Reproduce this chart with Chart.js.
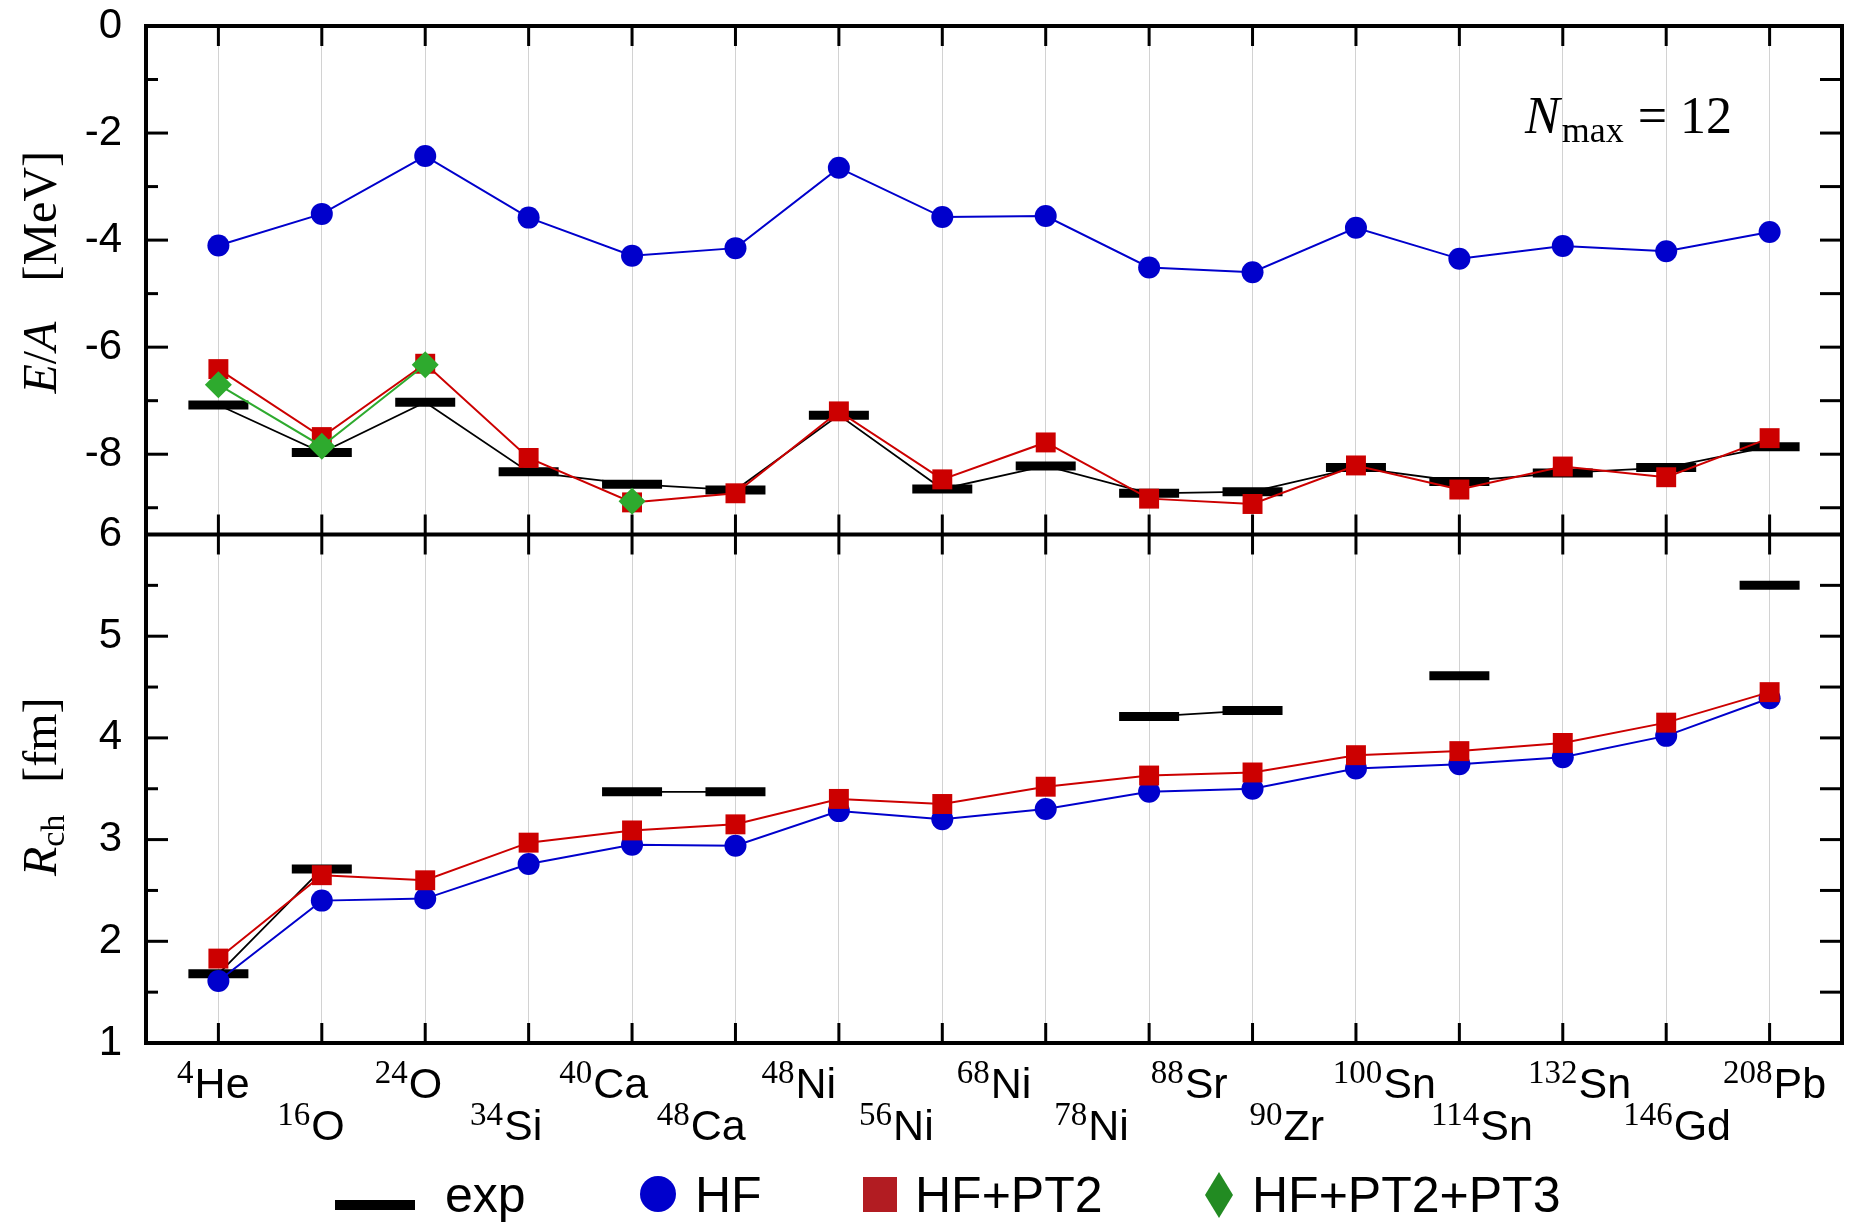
<!DOCTYPE html>
<html><head><meta charset="utf-8">
<script src="https://cdn.jsdelivr.net/npm/chart.js@4.4.1/dist/chart.umd.min.js"></script>
<style>html,body{margin:0;padding:0;background:#fff;}canvas{display:block;}</style>
</head><body>
<canvas id="c" width="1850" height="1222"></canvas>
<script>
// ---- data ----
const nuclei = ['4He','16O','24O','34Si','40Ca','48Ca','48Ni','56Ni','78Ni','88Sr','90Zr','100Sn','114Sn','132Sn','146Gd','208Pb'];
const tickMass   = ['4','16','24','34','40','48','48','56','68','78','88','90','100','114','132','146','208'];
const tickSymbol = ['He','O','O','Si','Ca','Ca','Ni','Ni','Ni','Ni','Sr','Zr','Sn','Sn','Sn','Gd','Pb'];

const eExp = [-7.08,-7.97,-7.03,-8.33,-8.56,-8.67,-7.27,-8.65,-8.22,-8.73,-8.70,-8.25,-8.51,-8.35,-8.25,-7.86];
const eHF  = [-4.10,-3.51,-2.43,-3.58,-4.29,-4.15,-2.65,-3.57,-3.55,-4.51,-4.60,-3.77,-4.35,-4.11,-4.21,-3.85];
const ePT2 = [-6.41,-7.68,-6.31,-8.07,-8.90,-8.73,-7.20,-8.47,-7.78,-8.83,-8.93,-8.21,-8.66,-8.23,-8.43,-7.70];
const ePT3 = [-6.70,-7.85,-6.33,null,-8.88,null,null,null,null,null,null,null,null,null,null,null];

const rExp = [1.68,2.71,null,null,3.47,3.47,null,null,null,4.21,4.27,null,4.61,null,null,5.50];
const rHF  = [1.61,2.40,2.42,2.76,2.95,2.94,3.28,3.20,3.30,3.47,3.50,3.70,3.74,3.81,4.02,4.39];
const rPT2 = [1.83,2.65,2.60,2.97,3.09,3.15,3.40,3.35,3.52,3.63,3.66,3.83,3.87,3.95,4.15,4.45];

const yETicks = [0,-2,-4,-6,-8];
const yEMinor = [-1,-3,-5,-7,-9];
const yRTicks = [1,2,3,4,5,6];
const yRMinor = [1.5,2.5,3.5,4.5,5.5];
const legendNames = ['exp','HF','HF+PT2','HF+PT2+PT3'];

// ---- styles ----
const SANS = '"Liberation Sans", Arial, sans-serif';
const SERIF = '"Liberation Serif", "Times New Roman", serif';
const BLUE = '#0000CC', RED = '#CC0000', GREEN = '#2EAA2E';
const pts = arr => arr.map((v, i) => ({x: i, y: v}));

function expSet(data, axis) {
  return {label: 'exp', data: pts(data), yAxisID: axis, xAxisID: 'x', borderColor: '#000', borderWidth: 1.8,
    pointStyle: 'line', pointRadius: 30, pointHoverRadius: 30, pointBorderWidth: 9, pointHoverBorderWidth: 9,
    pointBorderColor: '#000', pointBackgroundColor: '#000', order: 4};
}
function calcSet(label, data, axis, color, style, r, order) {
  return {label, data: pts(data), yAxisID: axis, xAxisID: 'x', borderColor: color, borderWidth: 2,
    pointStyle: style, pointRadius: r, pointHoverRadius: r, pointBorderWidth: 0, pointHoverBorderWidth: 0,
    pointBackgroundColor: color, pointBorderColor: color, order};
}

function drawRich(ctx, parts, x, y) {
  for (const p of parts) {
    ctx.font = p.font;
    ctx.fillText(p.text, x, y + (p.dy || 0));
    x += ctx.measureText(p.text).width + (p.gap || 0);
  }
}
function richWidth(ctx, parts) {
  let w = 0;
  for (const p of parts) { ctx.font = p.font; w += ctx.measureText(p.text).width + (p.gap || 0); }
  return w;
}

const deco = {
  id: 'deco',
  afterDraw(chart) {
    const ctx = chart.ctx;
    const {left, right, top, bottom} = chart.chartArea;
    const {x, xl, yE, yR} = chart.scales;
    const mid = yE.bottom;
    ctx.save();
    ctx.strokeStyle = '#000';
    ctx.fillStyle = '#000';
    ctx.lineCap = 'butt';
    const h = (x0, x1, y) => { ctx.beginPath(); ctx.moveTo(x0, y); ctx.lineTo(x1, y); ctx.stroke(); };
    const v = (xx, y0, y1) => { ctx.beginPath(); ctx.moveTo(xx, y0); ctx.lineTo(xx, y1); ctx.stroke(); };
    ctx.lineWidth = 3;
    yETicks.forEach(t => h(left, left + 22, yE.getPixelForValue(t)));
    yEMinor.forEach(t => h(left, left + 12, yE.getPixelForValue(t)));
    yETicks.concat(yEMinor).forEach(t => h(right - 22, right, yE.getPixelForValue(t)));
    yRTicks.forEach(t => h(left, left + 22, yR.getPixelForValue(t)));
    yRMinor.forEach(t => h(left, left + 12, yR.getPixelForValue(t)));
    yRTicks.concat(yRMinor).forEach(t => h(right - 22, right, yR.getPixelForValue(t)));
    nuclei.forEach((n, i) => {
      const p = x.getPixelForValue(i);
      v(p, top, top + 20); v(p, mid - 20, mid + 20); v(p, bottom - 20, bottom);
    });
    ctx.lineWidth = 4;
    ctx.strokeRect(left, top, right - left, bottom - top);
    h(left, right, mid);

    // y-axis titles (rotated)
    ctx.textBaseline = 'alphabetic';
    const titleE = [
      {text: 'E', font: 'italic 48px ' + SERIF},
      {text: '/', font: '48px ' + SERIF},
      {text: 'A', font: 'italic 48px ' + SERIF, gap: 40},
      {text: '[MeV]', font: '48px ' + SERIF}];
    const titleR = [
      {text: 'R', font: 'italic 48px ' + SERIF},
      {text: 'ch', font: '34px ' + SERIF, dy: 8, gap: 32},
      {text: '[fm]', font: '48px ' + SERIF}];
    [[titleE, (yE.top + yE.bottom) / 2 - 8], [titleR, (yR.top + yR.bottom) / 2 - 2]].forEach(([parts, cy]) => {
      ctx.save();
      ctx.translate(56, cy);
      ctx.rotate(-Math.PI / 2);
      const w = richWidth(ctx, parts);
      drawRich(ctx, parts, -w / 2, 0);
      ctx.restore();
    });

    // N_max annotation
    drawRich(ctx, [
      {text: 'N', font: 'italic 52px ' + SERIF, gap: 2},
      {text: 'max', font: '36px ' + SERIF, dy: 9, gap: 14},
      {text: '= 12', font: '52px ' + SERIF}], right - 317, yE.getPixelForValue(-2.0));

    // x tick labels (two staggered rows)
    tickMass.forEach((m, k) => {
      const cx = xl.getPixelForValue(k);
      const base = xl.top + (k % 2 ? 97 : 55);
      const parts = [
        {text: m, font: '33px ' + SERIF, dy: -15, gap: 1},
        {text: tickSymbol[k], font: '43px ' + SANS}];
      const w = richWidth(ctx, parts);
      drawRich(ctx, parts, cx - w / 2, base);
    });

    // legend
    const ly = 1212;
    ctx.font = '50px ' + SANS;
    ctx.fillStyle = '#000';
    ctx.fillRect(335, 1200, 80, 10);
    ctx.fillText(legendNames[0], 445, ly);
    ctx.fillStyle = BLUE;
    ctx.beginPath(); ctx.arc(658, 1194, 18, 0, Math.PI * 2); ctx.fill();
    ctx.fillStyle = '#000';
    ctx.fillText(legendNames[1], 695, ly);
    ctx.fillStyle = '#B21C22';
    ctx.fillRect(863, 1177, 34, 35);
    ctx.fillStyle = '#000';
    ctx.fillText(legendNames[2], 915, ly);
    ctx.fillStyle = '#228B22';
    ctx.beginPath(); ctx.moveTo(1219, 1172); ctx.lineTo(1233, 1195); ctx.lineTo(1219, 1218); ctx.lineTo(1205, 1195); ctx.closePath(); ctx.fill();
    ctx.fillStyle = '#000';
    ctx.fillText(legendNames[3], 1252, ly);
    ctx.restore();
  }
};

const yFit = s => { s.width = 146; s.paddingTop = 0; s.paddingBottom = 0; };

new Chart(document.getElementById('c'), {
  type: 'line',
  data: {
    datasets: [
      calcSet('HF+PT2+PT3', ePT3, 'yE', GREEN, 'rectRot', 13.5, 1),
      calcSet('HF+PT2', ePT2, 'yE', RED, 'rect', 14.1, 2),
      calcSet('HF', eHF, 'yE', BLUE, 'circle', 11, 3),
      expSet(eExp, 'yE'),
      calcSet('HF+PT2', rPT2, 'yR', RED, 'rect', 14.1, 2),
      calcSet('HF', rHF, 'yR', BLUE, 'circle', 11, 3),
      expSet(rExp, 'yR')
    ]
  },
  options: {
    responsive: false,
    animation: false,
    devicePixelRatio: 1,
    events: [],
    clip: false,
    spanGaps: false,
    layout: {autoPadding: false, padding: {top: 26, right: 8, left: 0, bottom: 0}},
    plugins: {legend: {display: false}, tooltip: {enabled: false}},
    elements: {line: {tension: 0}},
    scales: {
      x: {type: 'linear', position: 'bottom', min: -0.7, max: 15.7,
        afterBuildTicks: s => { s.ticks = nuclei.map((n, i) => ({value: i})); },
        grid: {display: true, color: '#d2d2d2', lineWidth: 1, drawTicks: false},
        border: {display: false}, ticks: {display: false},
        afterFit: s => { s.height = 0; }},
      xl: {type: 'linear', position: 'bottom', min: -0.69, max: 16.69,
        afterBuildTicks: s => { s.ticks = tickMass.map((m, i) => ({value: i})); },
        grid: {display: false, drawTicks: false}, border: {display: false}, ticks: {display: false},
        afterFit: s => { s.height = 179; }},
      yE: {type: 'linear', position: 'left', stack: 'panels', stackWeight: 1, weight: 2, min: -9.5, max: 0,
        afterBuildTicks: s => { s.ticks = yETicks.map(t => ({value: t})); },
        grid: {display: false, drawTicks: false}, border: {display: false},
        ticks: {color: '#000', font: {family: SANS, size: 42}, padding: 24},
        afterFit: yFit},
      yR: {type: 'linear', position: 'left', stack: 'panels', stackWeight: 1, weight: 1, min: 1, max: 6,
        afterBuildTicks: s => { s.ticks = yRTicks.map(t => ({value: t})); },
        grid: {display: false, drawTicks: false}, border: {display: false},
        ticks: {color: '#000', font: {family: SANS, size: 42}, padding: 24},
        afterFit: yFit}
    }
  },
  plugins: [deco]
});
</script>
</body></html>
